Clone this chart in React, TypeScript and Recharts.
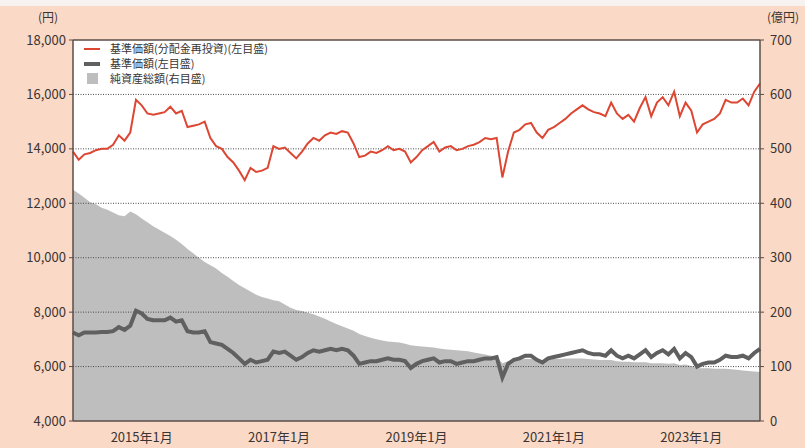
import React from "react";
import { Area, ComposedChart, Line, ReferenceLine, XAxis, YAxis } from "recharts";

// Monthly points, 2014/1 .. 2024/1
const MONTHS = Array.from({ length: 121 }, (_, i) => `${2014 + Math.floor(i / 12)}/${(i % 12) + 1}`);

const X_TICKS = ["2015/1", "2017/1", "2019/1", "2021/1", "2023/1"];
const X_TICK_LABELS = ["2015年1月", "2017年1月", "2019年1月", "2021年1月", "2023年1月"];
const LEFT_TICKS = [4000, 6000, 8000, 10000, 12000, 14000, 16000, 18000];
const RIGHT_TICKS = [0, 100, 200, 300, 400, 500, 600, 700];
const GRID_LEVELS = [6000, 8000, 10000, 12000, 14000, 16000];

// 基準価額(分配金再投資) 円
const NAV_REINVESTED = [
  13900, 13600, 13800, 13850, 13950, 14000, 14000, 14150, 14500, 14300,
  14600, 15800, 15600, 15300, 15250, 15300, 15350, 15550, 15300, 15400,
  14800, 14850, 14900, 15000, 14400, 14100, 14000, 13700, 13500, 13200,
  12850, 13300, 13150, 13200, 13300, 14100, 14000, 14050, 13850, 13650,
  13900, 14200, 14400, 14300, 14500, 14600, 14550, 14650, 14600, 14200,
  13700, 13750, 13900, 13850, 13950, 14100, 13950, 14000, 13900, 13500,
  13700, 13950, 14100, 14250, 13900, 14050, 14100, 13950, 14000, 14100,
  14150, 14250, 14400, 14350, 14400, 12950, 13900, 14600, 14700, 14900,
  14950, 14600, 14400, 14700, 14800, 14950, 15100, 15300, 15450, 15600,
  15450, 15350, 15300, 15200, 15700, 15300, 15100, 15250, 15000, 15500,
  15900, 15200, 15700, 15900, 15600, 16100, 15200, 15700, 15400, 14600,
  14900, 15000, 15100, 15300, 15800, 15700, 15700, 15850, 15600, 16100,
  16400,
];

// 基準価額 円
const NAV = [
  7250, 7150, 7250, 7250, 7250, 7270, 7270, 7300, 7450, 7350,
  7500, 8050, 7950, 7750, 7700, 7700, 7700, 7800, 7650, 7700,
  7300, 7250, 7250, 7300, 6900, 6850, 6800, 6650, 6500, 6300,
  6100, 6250, 6150, 6200, 6250, 6550, 6500, 6550, 6400, 6250,
  6350, 6500, 6600, 6550, 6600, 6650, 6600, 6650, 6600, 6400,
  6100, 6150, 6200, 6200, 6250, 6300, 6250, 6250, 6200, 5950,
  6100, 6200, 6250, 6300, 6150, 6200, 6200, 6100, 6150, 6200,
  6200, 6250, 6300, 6300, 6350, 5600, 6100, 6250, 6300, 6400,
  6400, 6250, 6150, 6300, 6350, 6400, 6450, 6500, 6550, 6600,
  6500, 6450, 6450, 6400, 6600, 6400, 6300, 6400, 6300, 6450,
  6600, 6350, 6500, 6600, 6450, 6650, 6300, 6500, 6350, 6000,
  6100, 6150, 6150, 6250, 6400, 6350, 6350, 6400, 6300, 6500,
  6650,
];

// 純資産総額 億円
const NET_ASSETS = [
  425, 418, 410, 402, 398, 392, 388, 383, 378, 376,
  385, 380, 372, 365, 358, 352, 346, 340, 333, 325,
  316, 308, 300, 292, 286, 280, 272, 265, 257, 250,
  244, 238, 232, 228, 225, 222, 220, 214, 208, 204,
  202, 199, 196, 192, 188, 183, 178, 174, 170, 166,
  160, 156, 153, 150, 148, 146, 145, 144, 142, 139,
  138, 137, 136, 135, 133, 132, 131, 130, 129, 128,
  126, 124, 122, 120, 118, 106, 110, 112, 113, 114,
  114, 113, 112, 113, 114, 114, 115, 115, 115, 115,
  114, 113, 112, 112, 112, 110, 109, 109, 108, 108,
  108, 106, 106, 106, 105, 106, 103, 104, 101, 97,
  97, 97, 96, 96, 96, 95, 94, 93, 92, 91,
  90,
];

const FONT = "'Noto Sans CJK JP', 'Noto Sans', sans-serif";
const INK = "#3a3432";
const FRAME = "#5b4d47";
const RED = "#dc4632";
const DARK = "#606060";
const AREA = "#bebebe";

const data = MONTHS.map((month, i) => ({
  month,
  reinvested: NAV_REINVESTED[i],
  nav: NAV[i],
  assets: NET_ASSETS[i],
}));

const tickStyle = { fill: INK, fontSize: 13, fontFamily: FONT };

// legend sits inside the plot, top-left; drawn as plain HTML so it takes no chart space
function LegendBox() {
  const row = { display: "flex", alignItems: "center", height: 15, lineHeight: "13px", whiteSpace: "nowrap" as const };
  return (
    <div
      style={{
        position: "absolute",
        left: 84,
        top: 41,
        fontFamily: FONT,
        fontSize: 11,
        color: INK,
      }}
    >
      <div style={row}>
        <span style={{ display: "inline-block", width: 16, height: 2, background: RED, marginRight: 10 }} />
        基準価額(分配金再投資)(左目盛)
      </div>
      <div style={row}>
        <span style={{ display: "inline-block", width: 16, height: 4, background: DARK, marginRight: 10 }} />
        基準価額(左目盛)
      </div>
      <div style={row}>
        <span style={{ display: "inline-block", width: 11, height: 11, background: AREA, marginLeft: 3, marginRight: 12 }} />
        純資産総額(右目盛)
      </div>
    </div>
  );
}

export default function App() {
  return (
    <div style={{ position: "absolute", left: 0, top: 0, width: 805, height: 448, background: "#fad9c7", overflow: "hidden" }}>
      <div style={{ position: "absolute", left: 0, top: 0, width: 805, height: 6, background: "#f6f2f0" }} />
      <div style={{ position: "absolute", left: 73, top: 40, width: 687, height: 381, background: "#ffffff" }} />
      <span style={{ position: "absolute", left: 38, top: 8, fontFamily: FONT, fontSize: 12, color: INK }}>(円)</span>
      <span style={{ position: "absolute", left: 767, top: 8, fontFamily: FONT, fontSize: 12, color: INK }}>(億円)</span>
      <ComposedChart
        width={805}
        height={448}
        data={data}
        margin={{ top: 40, right: 0, bottom: 0, left: 8 }}
        style={{ position: "absolute", left: 0, top: 0 }}
      >
        <XAxis
          dataKey="month"
          ticks={X_TICKS}
          interval={0}
          tickFormatter={(v) => X_TICK_LABELS[X_TICKS.indexOf(v)]}
          tick={tickStyle}
          tickLine={false}
          tickSize={4}
          tickMargin={8}
          axisLine={{ stroke: FRAME, strokeWidth: 1.5 }}
          height={27}
        />
        <YAxis
          yAxisId="left"
          domain={[4000, 18000]}
          ticks={LEFT_TICKS}
          tickFormatter={(v) => v.toLocaleString("en-US")}
          tick={tickStyle}
          tickSize={4}
          tickMargin={3}
          tickLine={{ stroke: FRAME }}
          axisLine={{ stroke: FRAME, strokeWidth: 1.5 }}
          width={65}
        />
        <YAxis
          yAxisId="right"
          orientation="right"
          domain={[0, 700]}
          ticks={RIGHT_TICKS}
          tick={tickStyle}
          tickSize={4}
          tickMargin={6}
          tickLine={{ stroke: FRAME }}
          axisLine={{ stroke: FRAME, strokeWidth: 1.5 }}
          width={45}
        />
        <Area
          yAxisId="right"
          type="linear"
          dataKey="assets"
          fill={AREA}
          fillOpacity={1}
          stroke="none"
          isAnimationActive={false}
        />
        {GRID_LEVELS.map((y) => (
          <ReferenceLine key={y} yAxisId="left" y={y} stroke="#4a4a4a" strokeWidth={1} strokeDasharray="1 1.5" />
        ))}
        <ReferenceLine yAxisId="left" y={18000} stroke={FRAME} strokeWidth={1.5} />
        <Line
          yAxisId="left"
          type="linear"
          dataKey="nav"
          stroke={DARK}
          strokeWidth={4}
          dot={false}
          isAnimationActive={false}
        />
        <Line
          yAxisId="left"
          type="linear"
          dataKey="reinvested"
          stroke={RED}
          strokeWidth={2}
          dot={false}
          isAnimationActive={false}
        />
      </ComposedChart>
      <LegendBox />
    </div>
  );
}
